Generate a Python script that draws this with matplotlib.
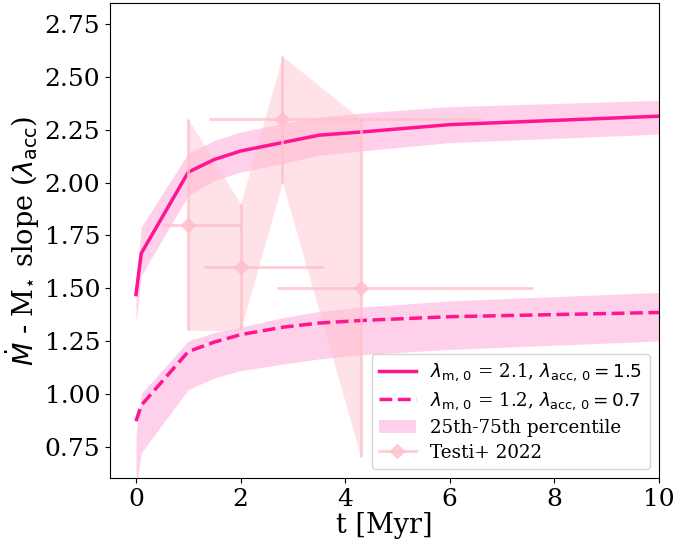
import numpy as np
import matplotlib
matplotlib.use("Agg")
import matplotlib.pyplot as plt
from matplotlib.lines import Line2D
from matplotlib.patches import Patch

plt.rcParams["font.family"] = "DejaVu Serif"
plt.rcParams["mathtext.fontset"] = "dejavusans"

# Model time grid [Myr]
t = [0, 0.1, 1, 1.5, 2, 2.8, 3.5, 4.3, 6, 8, 10]

# Model A: lambda_m,0 = 2.1, lambda_acc,0 = 1.5
slope_a = [1.47, 1.665, 2.05, 2.11, 2.15, 2.19, 2.225, 2.24, 2.275, 2.295, 2.315]
slope_a_lo = [1.335, 1.56, 1.94, 2.01, 2.05, 2.09, 2.13, 2.15, 2.19, 2.21, 2.23]
slope_a_hi = [1.48, 1.79, 2.14, 2.20, 2.24, 2.28, 2.31, 2.33, 2.36, 2.375, 2.39]

# Model B: lambda_m,0 = 1.2, lambda_acc,0 = 0.7
slope_b = [0.87, 0.945, 1.20, 1.245, 1.28, 1.315, 1.335, 1.347, 1.365, 1.375, 1.385]
slope_b_lo = [0.55, 0.72, 1.02, 1.075, 1.11, 1.14, 1.165, 1.185, 1.21, 1.23, 1.25]
slope_b_hi = [0.80, 1.00, 1.25, 1.29, 1.315, 1.36, 1.39, 1.41, 1.44, 1.46, 1.48]

# Testi et al. 2022 measurements
obs_t = [1.0, 2.0, 2.8, 4.3]
obs_slope = [1.8, 1.6, 2.3, 1.5]
obs_slope_err = [0.5, 0.3, 0.3, 0.8]
obs_t_err_lo = [0.5, 0.7, 1.4, 1.6]
obs_t_err_hi = [1.0, 1.6, 3.8, 3.3]

fig = plt.figure(figsize=(6.78, 5.44), dpi=100)
ax = fig.add_axes([0.162, 0.121, 0.810, 0.873])

col = "deeppink"
lab_a = r"$\lambda_{\rm m,\,0}$ = 2.1, $\lambda_{\rm acc,\,0} = 1.5$"
lab_b = r"$\lambda_{\rm m,\,0}$ = 1.2, $\lambda_{\rm acc,\,0} = 0.7$"

ax.fill_between(t, slope_a_lo, slope_a_hi, color=col, alpha=0.2, lw=0)
ax.plot(t, slope_a, color=col, lw=2.5)
ax.fill_between(t, slope_b_lo, slope_b_hi, color=col, alpha=0.2, lw=0)
ax.plot(t, slope_b, color=col, lw=2.5, ls="--")

obs_slope = np.array(obs_slope)
obs_slope_err = np.array(obs_slope_err)
ax.fill_between(obs_t, obs_slope - obs_slope_err, obs_slope + obs_slope_err,
                color="pink", alpha=0.45, lw=0)
ax.errorbar(obs_t, obs_slope, yerr=obs_slope_err,
            xerr=[obs_t_err_lo, obs_t_err_hi], fmt="D", ms=7,
            color="pink", ecolor="pink", elinewidth=2, alpha=0.8)

ax.set_xlim(-0.5, 10)
ax.set_ylim(0.6, 2.85)
ax.set_xticks([0, 2, 4, 6, 8, 10])
ax.set_yticks([0.75, 1.0, 1.25, 1.5, 1.75, 2.0, 2.25, 2.5, 2.75])
ax.tick_params(labelsize=18)
ax.set_xlabel("t [Myr]", fontsize=19.5, labelpad=1)
ax.set_ylabel(r"$\dot{M}$ - M$_{\star}$ slope ($\lambda_{\rm acc}$)",
              fontsize=19.5, labelpad=2)

handles = [
    Line2D([], [], color=col, lw=2.5),
    Line2D([], [], color=col, lw=2.5, ls="--"),
    Patch(facecolor=col, alpha=0.2, lw=0),
    Line2D([], [], color="pink", lw=2, marker="D", ms=7, alpha=0.8),
]
labels = [lab_a, lab_b, "25th-75th percentile", "Testi+ 2022"]
ax.legend(handles, labels, loc="lower right", fontsize=13.2, labelspacing=0.38)

fig.savefig("out.png", dpi=100)
